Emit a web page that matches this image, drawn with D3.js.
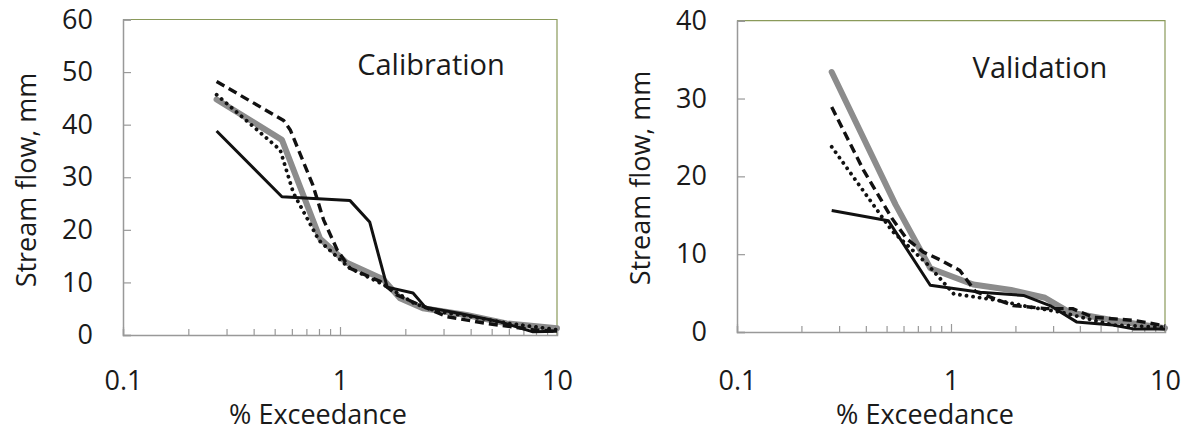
<!DOCTYPE html>
<html>
<head>
<meta charset="utf-8">
<script src="https://cdn.jsdelivr.net/npm/d3@7"></script>
<style>
  body { margin: 0; background: #fff; }
  text { font-family: "Open Sans", sans-serif; fill: #1a1a1a; }
</style>
</head>
<body>
<div id="chart"></div>
<script>
// tick labels
const xTickLabels = [0.1, 1, 10];
const xMinorTicks = [0.2, 0.3, 0.4, 0.5, 0.6, 0.7, 0.8, 0.9, 2, 3, 4, 5, 6, 7, 8, 9];
const calYTicks = [0, 10, 20, 30, 40, 50, 60];
const valYTicks = [0, 10, 20, 30, 40];

// Calibration series (x = % exceedance, y = stream flow mm)
const calObsX = [0.27, 0.54, 0.81, 1.07, 1.58, 1.89, 2.41, 3.83, 5.85, 10];
const calObsY = [44.8, 37.1, 18.3, 13.8, 10.6, 7.0, 5.1, 3.8, 2.2, 1.3];
const calSolidX = [0.27, 0.54, 1.11, 1.37, 1.65, 2.17, 2.47, 3.57, 5.46, 7.75, 10];
const calSolidY = [38.8, 26.3, 25.6, 21.5, 9.1, 8.0, 5.3, 4.1, 2.5, 0.6, 0.7];
const calDashX = [0.27, 0.55, 0.59, 0.75, 0.84, 0.97, 1.11, 1.53, 1.83, 2.25, 3.1, 4.74, 7.75, 10];
const calDashY = [48.2, 40.8, 39.0, 28.5, 21.9, 16.2, 12.7, 10.2, 7.6, 6.0, 3.5, 2.2, 1.0, 0.7];
const calDotX = [0.27, 0.53, 0.61, 0.8, 1.1, 1.6, 2.2, 2.8, 4.0, 6.0, 10];
const calDotY = [45.7, 35.2, 27.0, 18.0, 12.8, 9.5, 6.0, 4.5, 3.5, 2.2, 1.0];

// Validation series
const valObsX = [0.277, 0.55, 0.80, 1.27, 1.91, 2.75, 3.6, 5.7, 10];
const valObsY = [33.4, 16.4, 8.2, 6.1, 5.4, 4.4, 2.5, 1.5, 0.5];
const valSolidX = [0.277, 0.51, 0.80, 1.37, 2.18, 2.9, 3.86, 5.7, 7.1, 10];
const valSolidY = [15.6, 14.3, 6.0, 5.1, 4.7, 3.4, 1.3, 0.9, 0.4, 0.4];
const valDashX = [0.277, 0.39, 0.53, 0.62, 0.74, 0.9, 1.1, 1.3, 1.95, 2.8, 3.7, 4.6, 7.1, 10];
const valDashY = [28.9, 20.8, 14.6, 12.0, 10.3, 9.2, 7.9, 5.2, 3.4, 3.0, 3.0, 1.9, 1.5, 0.8];
const valDotX = [0.277, 0.53, 0.77, 1.03, 1.63, 2.34, 3.2, 5.7, 10];
const valDotY = [23.8, 13.0, 8.8, 4.9, 4.1, 3.2, 2.6, 0.9, 0.6];

const svg = d3.select("#chart").append("svg")
    .attr("width", 1186)
    .attr("height", 432);

const styles = {
    obs:   { stroke: "#8c8c8c", width: 6,   dash: null, cap: "round" },
    solid: { stroke: "#111",    width: 3,   dash: null, cap: "butt" },
    dash:  { stroke: "#111",    width: 3.4, dash: "9,5", cap: "butt" },
    dot:   { stroke: "#111",    width: 3.8, dash: "0.1,6.5", cap: "round" }
};

function drawPanel(p) {
    const x = d3.scaleLog().domain([0.1, 10]).range([p.left, p.right]);
    const y = d3.scaleLinear().domain([0, p.yMax]).range([p.bottom, p.top]);
    const g = svg.append("g");

    // top & right frame
    g.append("path")
        .attr("d", `M${p.left},${p.top}H${p.right}V${p.bottom}`)
        .attr("fill", "none")
        .attr("stroke", "#8a9a5a")
        .attr("stroke-width", 1.2);

    // y axis, ticks inward
    const ya = g.append("g")
        .attr("transform", `translate(${p.left},0)`)
        .call(d3.axisLeft(y).tickValues(p.yTicks).tickSize(-8).tickPadding(30));
    ya.select(".domain").attr("stroke", "#999").attr("stroke-width", 1.5);
    ya.selectAll(".tick line").attr("stroke", "#999").attr("stroke-width", 1.2);
    ya.selectAll("text").style("font-size", "27px").attr("fill", "#1a1a1a");

    // x axis minor ticks (upward)
    const xm = g.append("g")
        .attr("transform", `translate(0,${p.bottom})`)
        .call(d3.axisBottom(x).tickValues(xMinorTicks).tickSize(-6).tickFormat(""));
    xm.select(".domain").attr("stroke", "#999").attr("stroke-width", 1.5);
    xm.selectAll(".tick line").attr("stroke", "#999").attr("stroke-width", 1.2);

    // x axis labels
    const xa = g.append("g")
        .attr("transform", `translate(0,${p.bottom})`)
        .call(d3.axisBottom(x).tickValues(xTickLabels).tickSize(-8)
            .tickFormat(d3.format("~g")));
    xa.select(".domain").remove();
    xa.selectAll(".tick line").attr("stroke", "#999").attr("stroke-width", 1.2);
    xa.selectAll("text").style("font-size", "27px").attr("fill", "#1a1a1a")
        .attr("y", 390 - p.bottom).attr("dy", 0);

    const line = d3.line().x(d => x(d[0])).y(d => y(d[1]));
    p.series.forEach(s => {
        const st = styles[s.style];
        g.append("path")
            .datum(d3.zip(s.xs, s.ys))
            .attr("d", line)
            .attr("fill", "none")
            .attr("stroke", st.stroke)
            .attr("stroke-width", st.width)
            .attr("stroke-dasharray", st.dash)
            .attr("stroke-linecap", st.cap)
            .attr("stroke-linejoin", "round");
    });

    // titles
    g.append("text")
        .attr("transform", `translate(${p.yTitleX},${p.yTitleY}) rotate(-90)`)
        .attr("text-anchor", "middle")
        .style("font-size", "27px")
        .text("Stream flow, mm");
    g.append("text")
        .attr("x", p.xTitleX).attr("y", 424)
        .attr("text-anchor", "middle")
        .style("font-size", "27px")
        .text("% Exceedance");
    g.append("text")
        .attr("x", p.labelX).attr("y", p.labelY)
        .attr("text-anchor", "middle")
        .style("font-size", "29px")
        .text(p.label);
}

drawPanel({
    left: 123, right: 557, top: 19.5, bottom: 335, yMax: 60, yTicks: calYTicks,
    yTitleX: 36, yTitleY: 180, xTitleX: 318, labelX: 431, labelY: 75, label: "Calibration",
    series: [
        { xs: calObsX, ys: calObsY, style: "obs" },
        { xs: calSolidX, ys: calSolidY, style: "solid" },
        { xs: calDashX, ys: calDashY, style: "dash" },
        { xs: calDotX, ys: calDotY, style: "dot" }
    ]
});

drawPanel({
    left: 737, right: 1165, top: 20.7, bottom: 332, yMax: 40, yTicks: valYTicks,
    yTitleX: 650, yTitleY: 178, xTitleX: 925, labelX: 1040, labelY: 78, label: "Validation",
    series: [
        { xs: valObsX, ys: valObsY, style: "obs" },
        { xs: valSolidX, ys: valSolidY, style: "solid" },
        { xs: valDashX, ys: valDashY, style: "dash" },
        { xs: valDotX, ys: valDotY, style: "dot" }
    ]
});
</script>
</body>
</html>
